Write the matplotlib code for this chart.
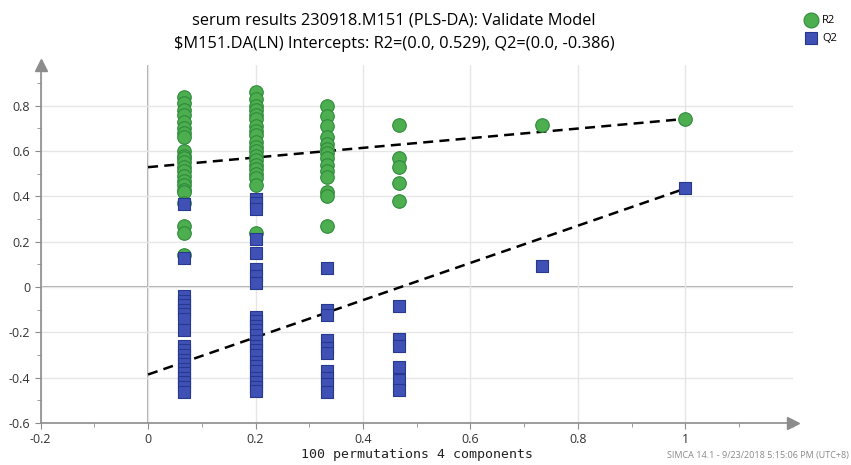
import numpy as np
import matplotlib.pyplot as plt
from matplotlib.ticker import MultipleLocator

# -----------------------------
# Data
# -----------------------------
perm_x = [0.0667, 0.2, 0.3333, 0.4667, 0.7333, 1.0]

r2_groups = [
    [0.84, 0.81, 0.78, 0.76, 0.73, 0.70, 0.68, 0.66, 0.60, 0.58, 0.57, 0.55,
     0.53, 0.51, 0.49, 0.47, 0.45, 0.43, 0.42, 0.37, 0.27, 0.24, 0.14],
    [0.86, 0.83, 0.80, 0.78, 0.76, 0.74, 0.71, 0.69, 0.67, 0.64, 0.62, 0.60,
     0.58, 0.56, 0.54, 0.52, 0.50, 0.48, 0.45, 0.24],
    [0.80, 0.755, 0.71, 0.66, 0.63, 0.61, 0.59, 0.57, 0.54, 0.51, 0.485,
     0.42, 0.40, 0.27],
    [0.715, 0.57, 0.53, 0.46, 0.38],
    [0.715],
    [0.742],
]

q2_groups = [
    [0.365, 0.13, -0.04, -0.06, -0.08, -0.10, -0.12, -0.14, -0.19, -0.26,
     -0.28, -0.30, -0.32, -0.34, -0.36, -0.38, -0.40, -0.42, -0.44, -0.465],
    [0.39, 0.37, 0.345, 0.21, 0.15, 0.08, 0.05, 0.02, -0.13, -0.15, -0.17,
     -0.19, -0.21, -0.24, -0.26, -0.28, -0.30, -0.33, -0.35, -0.37, -0.40,
     -0.42, -0.44, -0.46],
    [0.085, -0.10, -0.125, -0.235, -0.27, -0.29, -0.37, -0.40, -0.43, -0.465],
    [-0.085, -0.23, -0.26, -0.355, -0.41, -0.455],
    [0.095],
    [0.435],
]

# intercept lines (x = 0 and original model at x = 1)
line_x = [0.0, 1.0]
r2_line = [0.529, 0.742]
q2_line = [-0.386, 0.435]

title1 = "serum results 230918.M151 (PLS-DA): Validate Model"
title2 = "$M151.DA(LN) Intercepts: R2=(0.0, 0.529), Q2=(0.0, -0.386)"

# flatten groups
r2_x = np.concatenate([[x] * len(g) for x, g in zip(perm_x, r2_groups)])
r2_y = np.concatenate(r2_groups)
q2_x = np.concatenate([[x] * len(g) for x, g in zip(perm_x, q2_groups)])
q2_y = np.concatenate(q2_groups)

# -----------------------------
# Plot
# -----------------------------
plt.rcParams["font.family"] = ["Open Sans", "DejaVu Sans"]

fig = plt.figure(figsize=(8.51, 4.65), dpi=100)
ax = fig.add_axes([0.0477, 0.0903, 0.884, 0.770])

green = "#4cae4f"
green_edge = "#2f8a3a"
blue = "#3f51b5"
blue_edge = "#27388f"
axis_gray = "#8c8c8c"

ax.set_xlim(-0.2, 1.2)
ax.set_ylim(-0.6, 0.98)

# grid + zero lines
ax.xaxis.set_major_locator(MultipleLocator(0.2))
ax.xaxis.set_minor_locator(MultipleLocator(0.1))
ax.yaxis.set_major_locator(MultipleLocator(0.2))
ax.yaxis.set_minor_locator(MultipleLocator(0.1))
ax.grid(which="major", color="#e6e6e6", linewidth=1.0, zorder=0)
ax.axhline(0, color="#999999", linewidth=1.2, zorder=1)
ax.axvline(0, color="#999999", linewidth=1.2, zorder=1)

ax.plot(line_x, r2_line, color="black", linestyle=(0, (4, 2.5)), linewidth=1.8, zorder=2)
ax.plot(line_x, q2_line, color="black", linestyle=(0, (4, 2.5)), linewidth=1.8, zorder=2)

ax.scatter(r2_x, r2_y, s=95, marker="o", color=green, edgecolors=green_edge,
           linewidths=0.8, zorder=3, label="R2")
ax.scatter(q2_x, q2_y, s=70, marker="s", color=blue, edgecolors=blue_edge,
           linewidths=0.8, zorder=4, label="Q2")

# -----------------------------
# Axes styling
# -----------------------------
for side in ["top", "right"]:
    ax.spines[side].set_visible(False)
for side in ["left", "bottom"]:
    ax.spines[side].set_color(axis_gray)
    ax.spines[side].set_linewidth(1.2)

ax.plot(1, 0, ">", color=axis_gray, markersize=8, transform=ax.transAxes, clip_on=False)
ax.plot(0, 1, "^", color=axis_gray, markersize=8, transform=ax.transAxes, clip_on=False)

ax.tick_params(which="both", colors=axis_gray, labelcolor="#333333", direction="out")
ax.tick_params(which="major", length=4, labelsize=9)
ax.tick_params(which="minor", length=3)

xt = [-0.2, 0, 0.2, 0.4, 0.6, 0.8, 1]
yt = [-0.6, -0.4, -0.2, 0, 0.2, 0.4, 0.6, 0.8]
ax.set_xticks(xt)
ax.set_xticklabels([f"{v:g}" for v in xt])
ax.set_yticks(yt)
ax.set_yticklabels([f"{v:g}" for v in yt])

ax.set_xlabel("100 permutations 4 components", family="DejaVu Sans Mono",
              fontsize=9.5, labelpad=1, color="#222222")

fig.text(0.463, 0.955, title1, ha="center", va="center", fontsize=11.8)
fig.text(0.463, 0.905, title2, ha="center", va="center", fontsize=11.8)

ax.legend(loc="upper left", bbox_to_anchor=(0.933, 0.99), bbox_transform=fig.transFigure,
          frameon=False, fontsize=8, handletextpad=0.45, labelspacing=0.65,
          markerscale=1.1, handlelength=1.2)

fig.text(0.998, 0.01, "SIMCA 14.1 - 9/23/2018 5:15:06 PM (UTC+8)", ha="right",
         va="bottom", fontsize=6.5, color="#888888")

fig.savefig("out.png", dpi=100)
